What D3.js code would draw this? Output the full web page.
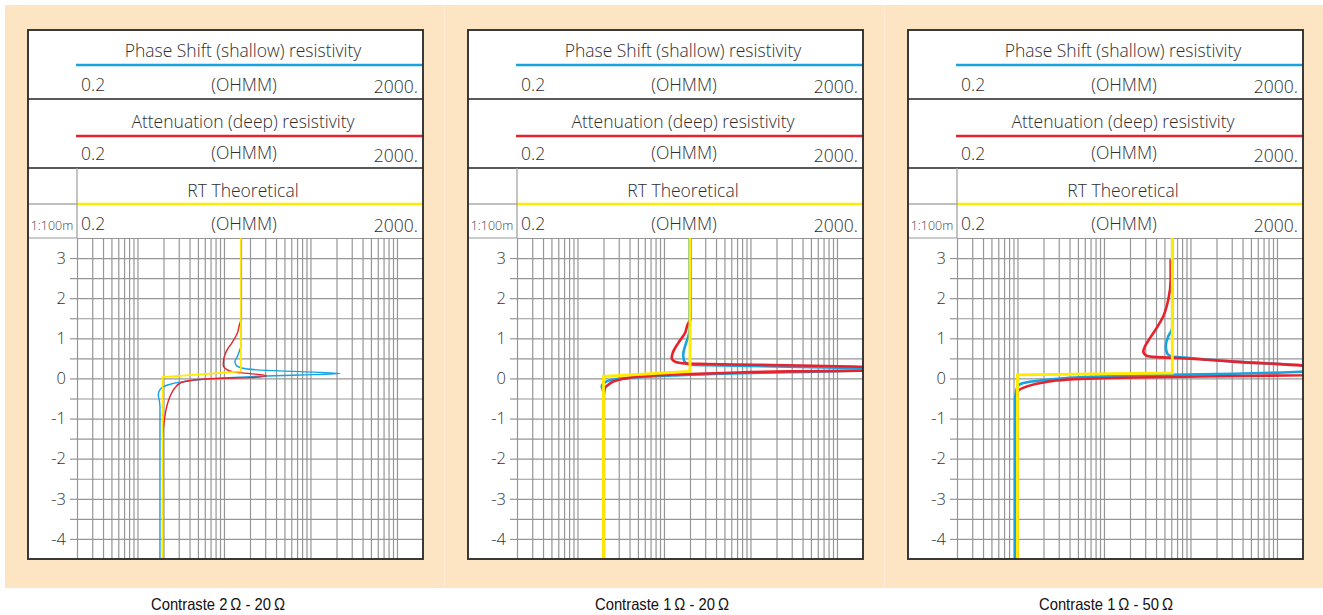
<!DOCTYPE html>
<html>
<head>
<meta charset="utf-8">
<script src="https://cdn.jsdelivr.net/npm/d3@7"></script>
<style>
  html, body { margin: 0; padding: 0; background: #ffffff; }
  svg { display: block; }
</style>
</head>
<body>
<svg id="chart" width="1323" height="615"></svg>
<script>
// ---- Track headers and labels ----
const captions = ["Contraste 2\u202FΩ - 20\u202FΩ", "Contraste 1\u202FΩ - 20\u202FΩ", "Contraste 1\u202FΩ - 50\u202FΩ"];
const curveTitles = ["Phase Shift (shallow) resistivity", "Attenuation (deep) resistivity", "RT Theoretical"];
const scaleLabels = ["0.2", "(OHMM)", "2000."];
const depthScaleLabel = "1:100m";
const depthTicks = [3, 2, 1, 0, -1, -2, -3, -4];
const resistivityDomain = [0.2, 2000];
const depthDomain = [3.5, -4.5];

// ---- Log curves: [depth (m), resistivity (ohm.m)] ----
// Contrast 2 - 20
const shallowA = [[3.5, 15.7], [0.8, 15.7], [0.72, 15.3], [0.55, 14.3], [0.42, 13.4], [0.33, 13.8], [0.26, 16.0],
  [0.2, 31], [0.17, 76], [0.125, 220], [0.085, 76], [0.06, 31], [0.025, 12.8], [-0.01, 6.9], [-0.08, 3.39],
  [-0.17, 2.18], [-0.28, 1.82], [-0.41, 1.74], [-0.55, 1.79], [-0.7, 1.82], [-4.5, 1.82]];
const deepA = [[3.5, 15.9], [1.46, 15.9], [1.38, 15.3], [1.13, 14.3], [0.88, 12.3], [0.72, 10.9], [0.51, 10.0],
  [0.34, 9.8], [0.22, 10.8], [0.15, 14.0], [0.12, 20], [0.07, 31], [0.02, 20], [0.0, 8.2], [-0.05, 4.05],
  [-0.12, 3.1], [-0.24, 2.7], [-0.45, 2.38], [-0.7, 2.18], [-1.0, 2.06], [-1.45, 1.97], [-4.5, 1.95]];
const trueA = [[3.5, 15.7], [0.175, 15.7], [0.035, 1.95], [-4.5, 1.95]];

// Contrast 1 - 20
const shallowB = [[3.5, 19.8], [1.2, 19.8], [1.05, 19.1], [0.8, 17.5], [0.59, 16.7], [0.44, 17.1], [0.34, 20.5],
  [0.325, 48], [0.295, 286], [0.255, 2000], [0.225, 3500], [0.2, 2000], [0.155, 286], [0.12, 48.5],
  [0.075, 12.8], [0.035, 5.3], [-0.015, 2.84], [-0.075, 2.18], [-0.2, 1.91], [-0.28, 1.96], [-0.4, 2.02], [-4.5, 2.02]];
const deepB = [[3.5, 20.2], [1.46, 20.2], [1.38, 19.1], [1.13, 17.5], [0.88, 14.6], [0.63, 12.6], [0.51, 12.3],
  [0.42, 13.4], [0.37, 18.3], [0.36, 31], [0.34, 118], [0.29, 2000], [0.24, 4000], [0.19, 2000], [0.175, 286],
  [0.135, 48.5], [0.1, 12.8], [0.05, 5.3], [-0.01, 3.39], [-0.075, 2.6], [-0.16, 2.27], [-0.24, 2.08],
  [-0.36, 2.03], [-0.5, 2.0], [-4.5, 2.0]];
const trueB = [[3.5, 20], [0.175, 20], [0.05, 2.0], [-4.5, 2.0]];

// Contrast 1 - 50
const shallowC = [[3.5, 61.5], [1.3, 61.5], [1.21, 60.7], [1.05, 55.4], [0.8, 51.8], [0.63, 53.6], [0.55, 60.7],
  [0.52, 86.5], [0.42, 313], [0.33, 2000], [0.25, 6000], [0.17, 2000], [0.117, 313], [0.092, 53.6], [0.05, 9.0],
  [0.01, 3.71], [-0.05, 1.82], [-0.115, 1.17], [-0.2, 1.0], [-0.36, 0.96], [-0.5, 0.94], [-4.5, 0.94]];
const deepC = [[2.97, 59], [2.46, 59], [1.96, 55.4], [1.55, 48.5], [1.26, 40.7], [1.01, 34.1], [0.8, 29.8],
  [0.67, 28.5], [0.57, 30.9], [0.53, 40.7], [0.51, 69], [0.42, 313], [0.32, 2000], [0.2, 8000], [0.08, 2000],
  [0.05, 129], [0.025, 21.8], [-0.03, 3.71], [-0.1, 1.99], [-0.2, 1.28], [-0.35, 1.0], [-0.5, 1.0], [-4.5, 1.0]];
const trueC = [[3.5, 61.7], [0.135, 61.7], [0.09, 1.0], [-4.5, 1.0]];

const shallowCurves = [shallowA, shallowB, shallowC];
const deepCurves = [deepA, deepB, deepC];
const trueCurves = [trueA, trueB, trueC];

// ---- Styling ----
const BLUE = "#17a3e2", RED = "#e6222c", YELLOW = "#ffea00";
const curveWidths = [1.4, 2.6, 2.6];
const PEACH = "#fde4c3";
const GRID = "#969696";
const TEXT = "#2e2e2e";
const headerFont = "'Open Sans', Roboto, 'Liberation Sans', Arial, sans-serif";
const headerSize = 17.5;

const svg = d3.select("#chart");

// Peach backdrop, one sheet per track
const sheetEdges = [5, 444, 884, 1323];
for (let i = 0; i < 3; i++) {
  svg.append("rect")
    .attr("x", sheetEdges[i]).attr("y", 5)
    .attr("width", sheetEdges[i + 1] - sheetEdges[i]).attr("height", 583)
    .attr("fill", PEACH);
  if (i > 0) {
    svg.append("line").attr("x1", sheetEdges[i] + 0.5).attr("x2", sheetEdges[i] + 0.5)
      .attr("y1", 5).attr("y2", 588).attr("stroke", "#fdebd6").attr("stroke-width", 1);
  }
}

// Track geometry (panel 0; others are shifted horizontally)
const boxL = 28, boxR = 423, boxT = 30, gridT = 238, gridB = 559, depthColR = 77;
const rowLines = [99, 168];
const panelShift = 440;
const captionX = [218, 662, 1106];

const line = (x, y) => d3.line()
  .x(d => x(d[1]))
  .y(d => y(d[0]));

for (let p = 0; p < 3; p++) {
  const dx = p * panelShift;
  const g = svg.append("g").attr("transform", `translate(${dx},0)`);

  const x = d3.scaleLog().domain(resistivityDomain).range([depthColR, boxR]);
  const y = d3.scaleLinear().domain(depthDomain).range([gridT, gridB]);

  // white track body
  g.append("rect").attr("x", boxL).attr("y", boxT)
    .attr("width", boxR - boxL).attr("height", gridB - boxT).attr("fill", "#fff");

  // ---- header block ----
  const headerRows = [
    { title: 0, titleY: 57, lineY: 65, color: BLUE, scaleY: [91, 91, 93] },
    { title: 1, titleY: 128, lineY: 136, color: RED, scaleY: [159.5, 159, 161.5] },
    { title: 2, titleY: 196.5, lineY: 204, color: YELLOW, scaleY: [230, 229.5, 231.5] }
  ];
  const txt = (sel, size) => sel.attr("font-family", headerFont).attr("font-weight", 300)
    .attr("font-size", size).attr("fill", TEXT);
  headerRows.forEach(r => {
    txt(g.append("text").attr("x", 243).attr("y", r.titleY).attr("text-anchor", "middle"), headerSize)
      .text(curveTitles[r.title]);
    g.append("line").attr("x1", 76).attr("x2", boxR).attr("y1", r.lineY).attr("y2", r.lineY)
      .attr("stroke", r.color).attr("stroke-width", 2.6);
    txt(g.append("text").attr("x", 81).attr("y", r.scaleY[0]), headerSize).text(scaleLabels[0]);
    txt(g.append("text").attr("x", 244).attr("y", r.scaleY[1]).attr("text-anchor", "middle"), headerSize)
      .text(scaleLabels[1]);
    txt(g.append("text").attr("x", 418).attr("y", r.scaleY[2]).attr("text-anchor", "end"), headerSize)
      .text(scaleLabels[2]);
  });

  // header row separators
  rowLines.forEach(yy => {
    g.append("line").attr("x1", boxL).attr("x2", boxR).attr("y1", yy).attr("y2", yy)
      .attr("stroke", "#222").attr("stroke-width", 1.6);
  });
  // depth column in the last header row
  g.append("line").attr("x1", depthColR).attr("x2", depthColR).attr("y1", rowLines[1]).attr("y2", gridT)
    .attr("stroke", "#aaa").attr("stroke-width", 1.4);
  g.append("line").attr("x1", boxL).attr("x2", depthColR).attr("y1", 204).attr("y2", 204)
    .attr("stroke", "#aaa").attr("stroke-width", 1.4);
  txt(g.append("text").attr("x", 52).attr("y", 230).attr("text-anchor", "middle"), 12.5)
    .attr("fill", "#444").text(depthScaleLabel);

  // ---- grid ----
  const xGrid = d3.axisTop(x)
    .tickValues(x.ticks().filter(v => v < resistivityDomain[1]))
    .tickSize(-(gridB - gridT)).tickFormat("");
  g.append("g").attr("transform", `translate(0,${gridT})`).call(xGrid)
    .call(a => a.select(".domain").remove())
    .selectAll("line").attr("stroke", GRID).attr("stroke-width", 1.2);

  const halfSteps = d3.range(depthDomain[0], depthDomain[1], -0.5);
  const yGrid = d3.axisLeft(y).tickValues(halfSteps).tickSize(-(boxR - depthColR)).tickFormat("");
  g.append("g").attr("transform", `translate(${depthColR},0)`).call(yGrid)
    .call(a => a.select(".domain").remove())
    .selectAll("line").attr("stroke", GRID).attr("stroke-width", 1.2);
  // top grid edge continues across the depth column
  g.append("line").attr("x1", boxL).attr("x2", depthColR).attr("y1", gridT).attr("y2", gridT)
    .attr("stroke", GRID).attr("stroke-width", 1.2);

  // depth ticks and labels
  const yAxis = d3.axisLeft(y).tickValues(halfSteps.slice(1)).tickSize(7).tickPadding(4)
    .tickFormat(d => depthTicks.includes(d) ? String(d) : "");
  g.append("g").attr("transform", `translate(${depthColR},0)`).call(yAxis)
    .call(a => a.select(".domain").remove())
    .call(a => a.selectAll("line").attr("stroke", GRID).attr("stroke-width", 1.2))
    .call(a => a.selectAll("text").attr("font-family", headerFont).attr("font-weight", 300)
      .attr("font-size", 16.5).attr("fill", "#333"));

  // ---- curves ----
  const clipId = `clip${p}`;
  g.append("clipPath").attr("id", clipId).append("rect")
    .attr("x", depthColR).attr("y", gridT).attr("width", boxR - depthColR).attr("height", gridB - gridT);
  const cg = g.append("g").attr("clip-path", `url(#${clipId})`);
  const smooth = line(x, y).curve(d3.curveMonotoneY);
  const straight = line(x, y);

  cg.append("path").datum(shallowCurves[p]).attr("d", smooth)
    .attr("fill", "none").attr("stroke", BLUE).attr("stroke-width", curveWidths[p]);
  cg.append("path").datum(deepCurves[p]).attr("d", smooth)
    .attr("fill", "none").attr("stroke", RED).attr("stroke-width", curveWidths[p]);
  cg.append("path").datum(trueCurves[p]).attr("d", straight)
    .attr("fill", "none").attr("stroke", YELLOW).attr("stroke-width", curveWidths[p] + 0.3);

  // track frame
  g.append("rect").attr("x", boxL).attr("y", boxT)
    .attr("width", boxR - boxL).attr("height", gridB - boxT)
    .attr("fill", "none").attr("stroke", "#262626").attr("stroke-width", 1.8);

  // caption under the track
  svg.append("text").attr("x", captionX[p]).attr("y", 610).attr("text-anchor", "middle")
    .attr("font-family", "'Liberation Sans Narrow', 'Liberation Sans', Arial, sans-serif")
    .attr("font-size", 16.5).attr("textLength", 134).attr("lengthAdjust", "spacingAndGlyphs")
    .attr("fill", "#111").text(captions[p]);
}
</script>
</body>
</html>
